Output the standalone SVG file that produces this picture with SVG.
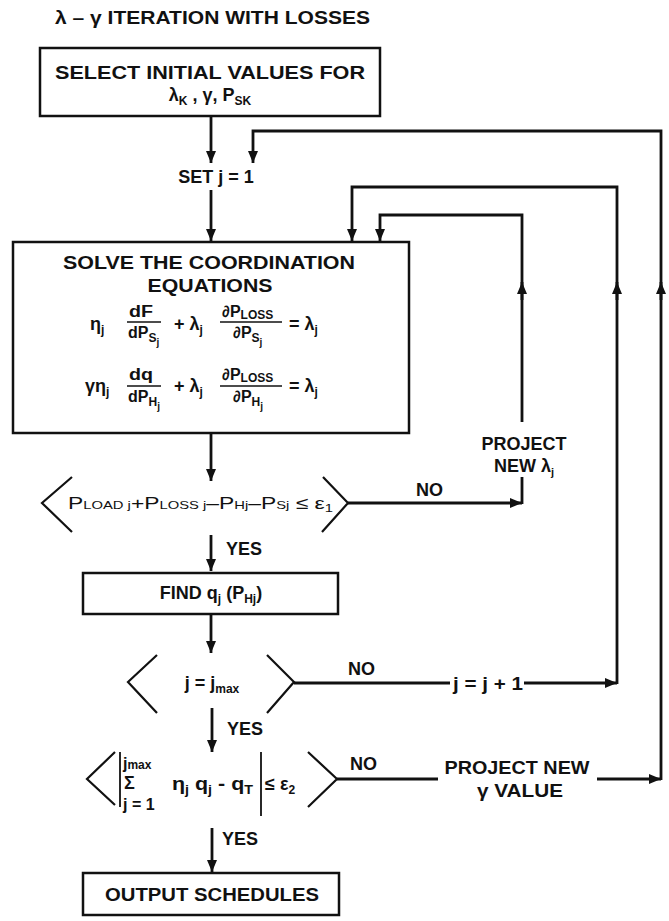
<svg xmlns="http://www.w3.org/2000/svg" width="669" height="921" viewBox="0 0 669 921">
<style>
.t{font-family:"Liberation Sans",Arial,sans-serif;font-weight:bold;font-size:18px;fill:#111}
.m{font-family:"Liberation Sans",Arial,sans-serif;font-weight:bold;font-size:18px;fill:#111}
.n{font-family:"Liberation Sans",Arial,sans-serif;font-weight:bold;font-size:16px;fill:#111}
.r{font-family:"Liberation Sans",Arial,sans-serif;font-size:17px;fill:#111}
.box{fill:#fff;stroke:#111;stroke-width:2.5}
.dec{fill:none;stroke:#111;stroke-width:2.2}
.c{fill:none;stroke:#111;stroke-width:2.8}
.fl{stroke:#111;stroke-width:1.6}
.bar{stroke:#111;stroke-width:1.8}
</style>
<defs>
<marker id="ah" markerUnits="userSpaceOnUse" markerWidth="12" markerHeight="10" refX="12" refY="5" orient="auto">
<path d="M0,0 L12,5 L0,10 z" fill="#111"/>
</marker>
</defs>
<rect width="669" height="921" fill="#fff"/>
<text class="t" x="55" y="24" textLength="315" lengthAdjust="spacingAndGlyphs">λ – γ ITERATION WITH LOSSES</text>

<g id="connectors">
<path class="c" d="M211,116 V163" marker-end="url(#ah)"/>
<path class="c" d="M211,190 V241" marker-end="url(#ah)"/>
<path class="c" d="M211,433 V481" marker-end="url(#ah)"/>
<path class="c" d="M211,535 V571" marker-end="url(#ah)"/>
<path class="c" d="M211,614 V653" marker-end="url(#ah)"/>
<path class="c" d="M212,708 V752" marker-end="url(#ah)"/>
<path class="c" d="M212,828 V872" marker-end="url(#ah)"/>
<!-- NO from decision 1 -->
<path class="c" d="M348,503 H522" marker-end="url(#ah)"/>
<path class="c" d="M522,504 V477"/>
<path class="c" d="M522,422 V215 H380 V241" marker-end="url(#ah)"/>
<path class="c" d="M522,300 V282" marker-end="url(#ah)"/>
<!-- NO from decision 2 -->
<path class="c" d="M294,683 H450"/>
<path class="c" d="M524,683 H617" marker-end="url(#ah)"/>
<path class="c" d="M617,684 V187 H352 V241" marker-end="url(#ah)"/>
<path class="c" d="M617,300 V282" marker-end="url(#ah)"/>
<!-- NO from decision 3 -->
<path class="c" d="M337,779 H438"/>
<path class="c" d="M597,779 H661" marker-end="url(#ah)"/>
<path class="c" d="M661,780 V131 H253 V163" marker-end="url(#ah)"/>
<path class="c" d="M661,300 V282" marker-end="url(#ah)"/>
<text class="t" x="226" y="555">YES</text>
<text class="t" x="227" y="735">YES</text>
<text class="t" x="222" y="845">YES</text>
<text class="t" x="416" y="496">NO</text>
<text class="t" x="348" y="675">NO</text>
<text class="t" x="350" y="770">NO</text>
<text class="t" x="488" y="690" text-anchor="middle" textLength="70" lengthAdjust="spacingAndGlyphs">j = j + 1</text>
<text class="t" x="524" y="450" text-anchor="middle">PROJECT</text>
<text class="t" x="524" y="472" text-anchor="middle">NEW λ<tspan font-size="11" dy="4">j</tspan></text>
<text class="t" x="517" y="774" text-anchor="middle" textLength="145" lengthAdjust="spacingAndGlyphs">PROJECT NEW</text>
<text class="t" x="520" y="797" text-anchor="middle" textLength="86" lengthAdjust="spacingAndGlyphs">γ VALUE</text>
</g>

<g id="n1">
<rect class="box" x="40" y="48" width="340" height="68"/>
<text class="t" x="210" y="79" text-anchor="middle" textLength="310" lengthAdjust="spacingAndGlyphs">SELECT INITIAL VALUES FOR</text>
<text class="t" x="210" y="101" text-anchor="middle">λ<tspan font-size="12" dy="4">K</tspan><tspan dy="-4"> , γ, P</tspan><tspan font-size="12" dy="4">SK</tspan></text>
</g>

<g id="n2">
<text class="t" x="216" y="183" text-anchor="middle">SET j = 1</text>
</g>

<g id="n3">
<rect class="box" x="13" y="242" width="396" height="191"/>
<text class="t" x="209" y="269" text-anchor="middle" textLength="292" lengthAdjust="spacingAndGlyphs">SOLVE THE COORDINATION</text>
<text class="t" x="210" y="292" text-anchor="middle" textLength="125" lengthAdjust="spacingAndGlyphs">EQUATIONS</text>
<!-- equation 1 -->
<text class="m" x="90" y="330">η<tspan font-size="12" dy="4">j</tspan></text>
<text class="n" x="129" y="317" textLength="24" lengthAdjust="spacingAndGlyphs">dF</text>
<line class="fl" x1="127" y1="322" x2="161" y2="322"/>
<text class="n" x="128" y="338">dP<tspan font-size="12" dy="4">S</tspan><tspan font-size="10" dy="4">j</tspan></text>
<text class="m" x="174" y="330">+ λ<tspan font-size="12" dy="4">j</tspan></text>
<text class="n" x="222" y="317">∂P<tspan font-size="12" dy="2">LOSS</tspan></text>
<line class="fl" x1="220" y1="322" x2="282" y2="322"/>
<text class="n" x="233" y="338">∂P<tspan font-size="12" dy="4">S</tspan><tspan font-size="10" dy="4">j</tspan></text>
<text class="m" x="289" y="330">=  λ<tspan font-size="12" dy="4">j</tspan></text>
<!-- equation 2 -->
<text class="m" x="85" y="392">γη<tspan font-size="12" dy="4">j</tspan></text>
<text class="n" x="129" y="380" textLength="24" lengthAdjust="spacingAndGlyphs">dq</text>
<line class="fl" x1="127" y1="386" x2="161" y2="386"/>
<text class="n" x="128" y="402">dP<tspan font-size="12" dy="4">H</tspan><tspan font-size="10" dy="4">j</tspan></text>
<text class="m" x="174" y="392">+ λ<tspan font-size="12" dy="4">j</tspan></text>
<text class="n" x="222" y="380">∂P<tspan font-size="12" dy="2">LOSS</tspan></text>
<line class="fl" x1="220" y1="386" x2="282" y2="386"/>
<text class="n" x="233" y="402">∂P<tspan font-size="12" dy="4">H</tspan><tspan font-size="10" dy="4">j</tspan></text>
<text class="m" x="289" y="392">=  λ<tspan font-size="12" dy="4">j</tspan></text>
</g>

<g id="n4">
<polyline class="dec" points="72,477 42,503 72,532"/>
<polyline class="dec" points="323,477 348,503 322,532"/>
<text class="r" x="68" y="509" textLength="265" lengthAdjust="spacingAndGlyphs">P<tspan font-size="11">LOAD j</tspan><tspan>+P</tspan><tspan font-size="11">LOSS j</tspan><tspan>–P</tspan><tspan font-size="11">Hj</tspan><tspan>–P</tspan><tspan font-size="11">Sj</tspan><tspan> ≤ ε</tspan><tspan font-size="11" dy="3">1</tspan></text>
</g>

<g id="n5">
<rect class="box" x="83" y="573" width="255" height="41"/>
<text class="t" x="211" y="599" text-anchor="middle">FIND q<tspan font-size="12" dy="4">j</tspan><tspan dy="-4"> (P</tspan><tspan font-size="12" dy="4">Hj</tspan><tspan dy="-4">)</tspan></text>
</g>

<g id="n6">
<polyline class="dec" points="157,655 128,682 157,713"/>
<polyline class="dec" points="267,655 294,682 267,713"/>
<text class="t" x="212" y="689" text-anchor="middle">j = j<tspan font-size="12" dy="4">max</tspan></text>
</g>

<g id="n7">
<polyline class="dec" points="115,752 87,779 115,805"/>
<polyline class="dec" points="308,752 337,779 308,807"/>
<line class="bar" x1="120" y1="752" x2="120" y2="807"/>
<line class="bar" x1="261" y1="752" x2="261" y2="816"/>
<text class="n" x="123" y="769" font-size="13">j<tspan font-size="12">max</tspan></text>
<text class="m" x="124" y="789" font-size="19">Σ</text>
<text class="n" x="123" y="810" font-size="12">j = 1</text>
<text class="m" x="172" y="790" textLength="81" lengthAdjust="spacingAndGlyphs">η<tspan font-size="12" dy="4">j</tspan><tspan dy="-4"> q</tspan><tspan font-size="12" dy="4">j</tspan><tspan dy="-4"> - q</tspan><tspan font-size="12" dy="4">T</tspan></text>
<text class="m" x="265" y="790">≤ ε<tspan font-size="12" dy="4">2</tspan></text>
</g>

<g id="n8">
<rect class="box" x="83" y="873" width="256" height="42"/>
<text class="t" x="212" y="901" text-anchor="middle" textLength="214" lengthAdjust="spacingAndGlyphs">OUTPUT SCHEDULES</text>
</g>
</svg>
